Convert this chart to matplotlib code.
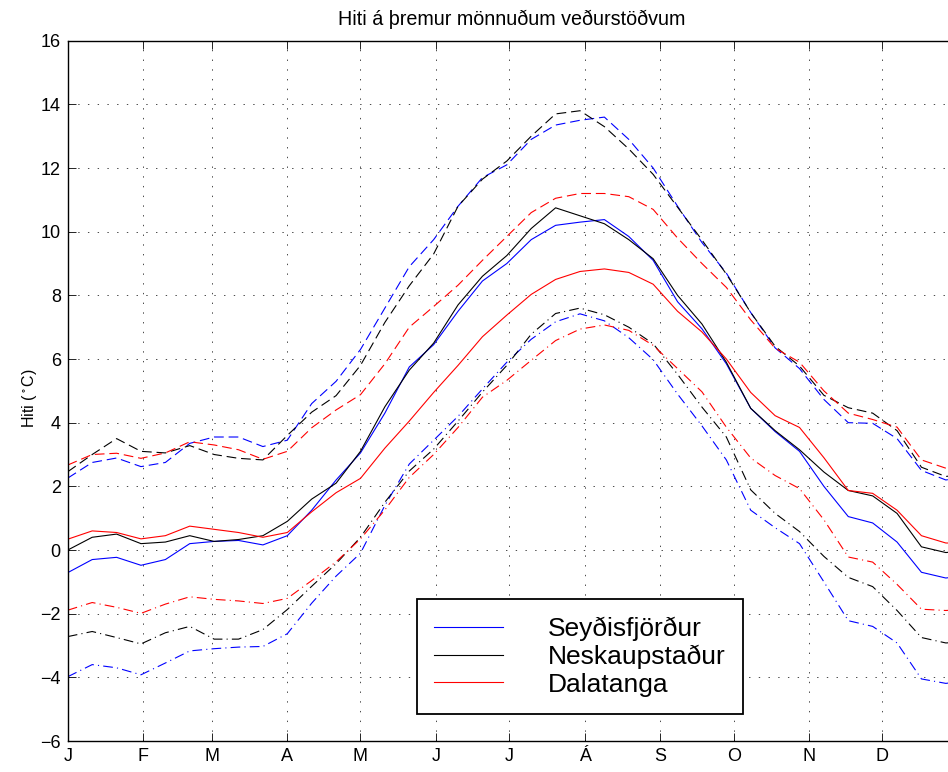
import matplotlib
matplotlib.use('Agg')
import matplotlib.pyplot as plt

plt.rcParams['font.family'] = ['Liberation Sans', 'DejaVu Sans']
plt.rcParams['mathtext.default'] = 'regular'
plt.rcParams['lines.scale_dashes'] = False

# day of year of each reading
day = [1, 11, 21, 31, 41, 51, 61, 71, 81, 91, 101, 111, 121, 131, 141, 151, 161, 171, 181,
       191, 201, 211, 221, 231, 241, 251, 261, 271, 281, 291, 301, 311, 321, 331, 341, 351,
       361, 365]

month_start = [1, 32, 60, 91, 121, 152, 182, 213, 244, 274, 305, 335]
month_lbl = ['J', 'F', 'M', 'A', 'M', 'J', 'J', 'Á', 'S', 'O', 'N', 'D']

stations = ['Seyðisfjörður', 'Neskaupstaður', 'Dalatanga']
colors = ['b', 'k', 'r']

# mean temperature
sey_mean = [-0.71, -0.3, -0.23, -0.48, -0.3, 0.2, 0.27, 0.3, 0.16, 0.45, 1.25, 2.2, 3.05, 4.3,
            5.75, 6.45, 7.5, 8.45, 9.0, 9.75, 10.2, 10.3, 10.38, 9.85, 9.1, 7.8, 6.95, 5.85,
            4.45, 3.72, 3.1, 2.0, 1.05, 0.85, 0.25, -0.7, -0.88, -0.84]
nes_mean = [0.0, 0.4, 0.5, 0.2, 0.25, 0.45, 0.27, 0.33, 0.45, 0.9, 1.6, 2.1, 3.1, 4.5, 5.65,
            6.5, 7.7, 8.6, 9.25, 10.1, 10.75, 10.5, 10.25, 9.75, 9.15, 8.0, 7.1, 5.9, 4.45,
            3.75, 3.15, 2.45, 1.87, 1.7, 1.15, 0.1, -0.08, -0.05]
dal_mean = [0.34, 0.6, 0.55, 0.35, 0.45, 0.75, 0.65, 0.55, 0.4, 0.55, 1.2, 1.8, 2.25, 3.2,
            4.05, 4.95, 5.8, 6.7, 7.38, 8.03, 8.5, 8.75, 8.83, 8.72, 8.35, 7.5, 6.85, 6.0,
            4.95, 4.22, 3.85, 2.9, 1.87, 1.78, 1.25, 0.45, 0.22, 0.22]

# upper (dashed)
sey_hi = [2.26, 2.75, 2.89, 2.62, 2.75, 3.35, 3.55, 3.55, 3.25, 3.45, 4.6, 5.3, 6.3, 7.6, 8.9,
          9.75, 10.8, 11.7, 12.1, 12.9, 13.35, 13.5, 13.6, 12.9, 12.0, 10.8, 9.66, 8.7, 7.46,
          6.35, 5.7, 4.73, 4.0, 3.98, 3.5, 2.5, 2.2, 2.25]
nes_hi = [2.46, 3.0, 3.5, 3.1, 3.05, 3.28, 3.0, 2.88, 2.83, 3.6, 4.33, 4.85, 5.8, 7.15, 8.3,
          9.3, 10.8, 11.65, 12.22, 13.0, 13.7, 13.8, 13.3, 12.6, 11.8, 10.77, 9.74, 8.67,
          7.46, 6.4, 5.78, 4.86, 4.47, 4.3, 3.75, 2.6, 2.31, 2.35]
dal_hi = [2.67, 3.0, 3.04, 2.88, 3.05, 3.4, 3.3, 3.15, 2.85, 3.1, 3.84, 4.4, 4.88, 5.85, 7.0,
          7.65, 8.32, 9.1, 9.85, 10.6, 11.05, 11.2, 11.2, 11.1, 10.7, 9.8, 9.0, 8.25, 7.23,
          6.34, 5.9, 5.0, 4.3, 4.1, 3.86, 2.83, 2.57, 2.6]

# lower (dash-dot)
sey_lo = [-3.98, -3.6, -3.7, -3.92, -3.55, -3.17, -3.1, -3.05, -3.03, -2.63, -1.67, -0.82,
          -0.1, 1.4, 2.7, 3.45, 4.2, 5.06, 5.9, 6.62, 7.17, 7.42, 7.2, 6.67, 5.98, 4.9, 3.9,
          2.83, 1.25, 0.7, 0.2, -1.0, -2.22, -2.4, -2.92, -4.05, -4.19, -4.15]
nes_lo = [-2.72, -2.56, -2.75, -2.95, -2.6, -2.4, -2.8, -2.8, -2.5, -1.87, -1.14, -0.43, 0.4,
          1.5, 2.48, 3.17, 4.05, 4.96, 5.8, 6.78, 7.43, 7.6, 7.39, 7.0, 6.48, 5.52, 4.49,
          3.55, 1.89, 1.15, 0.58, -0.2, -0.86, -1.15, -1.9, -2.75, -2.92, -2.9]
dal_lo = [-1.89, -1.65, -1.8, -1.99, -1.7, -1.47, -1.55, -1.6, -1.68, -1.52, -0.96, -0.37,
          0.35, 1.26, 2.28, 3.0, 3.85, 4.8, 5.33, 5.96, 6.58, 6.94, 7.07, 6.9, 6.43, 5.7,
          4.97, 3.86, 2.89, 2.34, 1.93, 0.95, -0.22, -0.38, -1.08, -1.86, -1.9, -1.88]

means = [sey_mean, nes_mean, dal_mean]
highs = [sey_hi, nes_hi, dal_hi]
lows = [sey_lo, nes_lo, dal_lo]

fig = plt.figure(figsize=(9.48, 7.72), dpi=100)
ax = fig.add_axes([67.8 / 948, 31 / 772, 887.8 / 948, 700.3 / 772])

lw = 0.8
handles = []
for i in range(3):
    h, = ax.plot(day, means[i], color=colors[i], lw=lw)
    handles.append(h)
    ax.plot(day, highs[i], color=colors[i], lw=lw, linestyle=(0, (7, 3.5)))
    ax.plot(day, lows[i], color=colors[i], lw=lw, linestyle=(0, (7, 3, 0.8, 3)))

ax.set_xlim(1, 365)
ax.set_ylim(-6, 16)
ax.set_xticks(month_start)
ax.set_xticklabels(month_lbl)
ax.set_yticks(range(-6, 17, 2))
ax.tick_params(direction='in', top=True, right=True, length=6, width=0.6,
               labelsize=13, pad=5)
ax.grid(True, color='k', linestyle=(0, (1, 6)), lw=0.5)
for s in ax.spines.values():
    s.set_linewidth(1.0)

ax.set_title('Hiti á þremur mönnuðum veðurstöðvum', fontsize=14.2, pad=11)
ax.set_ylabel(r'Hiti ($^\circ$C)', fontsize=11.5, labelpad=0)
ax.yaxis.set_label_coords(-0.032, 0.49)

leg = fig.legend(handles, stations, loc='upper left',
                 bbox_to_anchor=(417 / 948, 1 - 599 / 772), borderaxespad=0,
                 fontsize=19, handlelength=2.6, handletextpad=1.7, borderpad=0.66,
                 labelspacing=0.14, fancybox=False, framealpha=1)
leg.get_frame().set_edgecolor('k')
leg.get_frame().set_linewidth(1.3)

fig.savefig('out.png', dpi=100)
